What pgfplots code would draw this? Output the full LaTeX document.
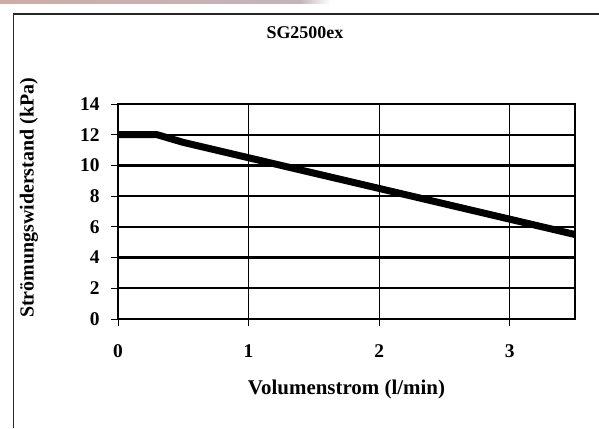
\documentclass[border=0pt]{standalone}
\usepackage{pgfplots}
\pgfplotsset{compat=1.18}
\usepackage{fontspec}
\setmainfont{Liberation Serif}
\begin{document}
\begin{tikzpicture}[x=1bp,y=1bp]
\path[use as bounding box] (0,0) rectangle (599,428);
\fill[white] (0,0) rectangle (599,428);
\shade[left color={rgb,255:red,205;green,172;blue,165}, right color={rgb,255:red,195;green,180;blue,188}] (0,424.5) rectangle (300,428);
\shade[left color={rgb,255:red,195;green,180;blue,188}, right color=white] (300,424.5) rectangle (330,428);
\draw[line width=1.3bp, black!85] (13.5,0) -- (13.5,414) -- (599,414);
\begin{axis}[
  at={(118bp,109bp)}, anchor=south west,
  scale only axis, width=457bp, height=215bp,
  xmin=0, xmax=3.5, ymin=0, ymax=14,
  xtick={0,1,2,3}, ytick={0,2,...,14},
  xtick pos=bottom, ytick pos=left,
  axis line style={line width=2.6bp},
  tick align=outside, major tick length=7bp,
  tick style={line width=0.8bp, black},
  xmajorgrids, ymajorgrids,
  x grid style={line width=0.8bp, black},
  y grid style={line width=2.4bp, black},
  /pgf/number format/assume math mode=true,
  ticklabel style={font=\fontsize{19.5}{23}\selectfont\bfseries},
  yticklabel style={xshift=-8bp},
  xticklabel style={yshift=-15bp},
  title={SG2500ex},
  title style={font=\fontsize{18}{21}\selectfont\bfseries, at={(rel axis cs:0.409,1.302)}, anchor=center},
  xlabel={Volumenstrom (l/min)},
  xlabel style={font=\fontsize{21}{25}\selectfont\bfseries, at={(rel axis cs:0.5,-0.33)}, anchor=center},
  ylabel={Strömungswiderstand (kPa)},
  ylabel style={font=\fontsize{20}{24}\selectfont\bfseries, at={(rel axis cs:-0.195,0.563)}, anchor=center},
]
\addplot[line width=7bp, black, line join=round] coordinates {
  (0,12) (0.3,12) (0.5,11.5) (1,10.5) (2,8.5) (3,6.5) (3.5,5.5)
};
\end{axis}
\end{tikzpicture}
\end{document}
